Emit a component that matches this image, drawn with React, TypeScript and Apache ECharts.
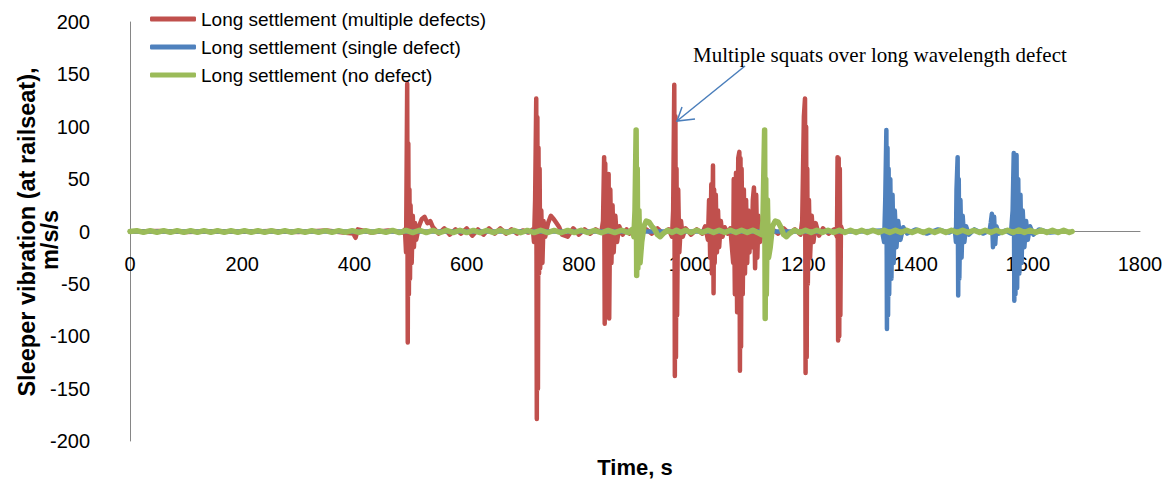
import React, { useEffect, useRef } from "react";
import * as echarts from "echarts";

const X_MIN = 0;
const X_MAX = 1800;
const X_STEP = 200;
const Y_MIN = -200;
const Y_MAX = 200;
const Y_STEP = 50;

const SERIES_NAMES = [
  "Long settlement (multiple defects)",
  "Long settlement (single defect)",
  "Long settlement (no defect)",
];

// [time (s), vibration (m/s/s)]
const multipleDefects: [number, number][] = [
  [0, 0], [50, 0.5], [100, -0.5], [150, 0.3], [200, -0.3], [250, 0.5], [300, -0.5], [350, 1],
  [380, -1], [398, -2], [402, -6], [406, 2], [430, -1], [460, 1], [485, -1],
  [490, 2], [492, -20], [493, 60], [494, 141], [495, -106], [496, 84], [497, -60], [498, 40],
  [499, -45], [500, 25], [502, -30], [504, 15], [506, -15], [508, 8], [510, -8], [515, 5],
  [520, 12], [525, 14], [530, 8], [535, 10], [540, 4], [550, -2], [560, 3], [570, -3],
  [580, 2], [590, -2], [600, 3], [610, -4], [620, 2], [630, -3], [640, 3], [650, -2],
  [660, 3], [670, -2], [680, 2], [690, -2], [700, 1], [710, -1], [718, 2],
  [720, -10], [722, 30], [724, 127], [725, -179], [726, 109], [727, -150], [728, 80], [729, -40],
  [730, 60], [731, -35], [733, 20], [735, -30], [737, 10], [740, -5], [745, 8], [750, 15],
  [755, 12], [760, 8], [765, 4], [770, -3], [780, -5], [790, 3], [800, -3], [810, 2],
  [820, -2], [830, 2], [840, -1],
  [843, 10], [845, 71], [846, -88], [847, 65], [848, -80], [849, 40], [851, -60], [853, 55],
  [854, -83], [856, 40], [858, -30], [860, 25], [862, -20], [865, 15], [868, -10], [872, 5],
  [878, -3], [885, 2], [890, -2], [900, 3], [910, -3], [920, 2], [930, -2], [940, 3],
  [950, -2], [960, 2], [966, -5],
  [968, 20], [970, 140], [971, -138], [972, 110], [973, -120], [974, 60], [975, -80], [977, 40],
  [979, -20], [982, 10], [985, -5], [990, 3], [1000, -3], [1010, 2], [1020, -2], [1025, 5],
  [1030, -8],
  [1032, 30], [1034, -25], [1036, 45], [1037, -40], [1039, 63], [1040, -59], [1041, 40], [1042, -30],
  [1044, 35], [1046, -20], [1048, 20], [1050, -15], [1053, 10], [1056, -5], [1060, 4], [1065, -2],
  [1070, 3], [1075, -30],
  [1076, 50], [1078, -60], [1080, 56], [1082, -77], [1084, 70], [1086, 76], [1087, -133], [1088, 70],
  [1089, -110], [1090, 60], [1092, -60], [1094, 40], [1096, -40], [1098, 30], [1100, -30], [1102, 20],
  [1104, -20], [1106, 15], [1108, -15], [1110, 30], [1112, 42], [1114, -35], [1116, 35], [1118, -25],
  [1120, 15], [1123, -10], [1128, 5], [1135, -3], [1145, 2], [1155, -2], [1165, 3], [1175, -2],
  [1185, 2], [1195, -3],
  [1198, 10], [1201, 110], [1203, 127], [1204, -135], [1205, 100], [1206, -120], [1207, 60], [1208, -50],
  [1210, 30], [1212, -25], [1215, 15], [1218, -10], [1222, 8], [1228, -4], [1235, 3], [1245, -2],
  [1255, 2], [1260, -5],
  [1261, 71], [1262, -104], [1263, 70], [1264, -100], [1265, 60], [1266, -80], [1267, 5], [1270, 0],
];

const singleDefect: [number, number][] = [
  [0, 0], [200, 0], [400, 0], [600, 0], [800, 0], [1000, 0], [1200, 0], [1300, 0],
  [1340, 1], [1344, -10], [1346, 30], [1348, 97], [1349, -93], [1350, 80], [1351, -80], [1352, 60],
  [1353, -60], [1355, 50], [1357, -45], [1359, 35], [1361, -30], [1363, 20], [1366, -15], [1369, 10],
  [1373, -8], [1378, 4], [1385, -2], [1400, 2], [1420, -2], [1440, 2], [1460, -1], [1470, 2],
  [1472, -10], [1473, 40], [1475, 71], [1476, -61], [1477, 50], [1478, -45], [1480, 30], [1482, -25],
  [1484, 15], [1487, -10], [1490, 5], [1495, -3], [1505, 2], [1520, -2], [1532, 1],
  [1534, 8], [1536, 17], [1538, -15], [1540, 14], [1542, -12], [1544, 5], [1548, -2], [1560, 1],
  [1570, -2],
  [1573, 20], [1575, 75], [1576, -66], [1577, 70], [1578, -60], [1580, 73], [1581, -54], [1583, 50],
  [1585, -40], [1587, 35], [1589, -30], [1591, 20], [1594, -15], [1597, 10], [1600, -8], [1604, 5],
  [1610, -3], [1620, 2], [1640, -1], [1660, 0],
];

const noDefect: [number, number][] = [
  [0, 0], [12, 0.8], [24, -0.8], [36, 0.8], [48, -0.8], [60, 0.8], [72, -0.8], [84, 0.8],
  [96, -0.8], [108, 0.8], [120, -0.8], [132, 0.8], [144, -0.8], [156, 0.8], [168, -0.8], [180, 0.8],
  [192, -0.8], [204, 0.8], [216, -0.8], [228, 0.8], [240, -0.8], [252, 0.8], [264, -0.8], [276, 0.8],
  [288, -0.8], [300, 0.8], [312, -0.8], [324, 0.8], [336, -0.8], [348, 0.8], [360, -0.8], [372, 0.8],
  [384, -0.8], [396, 0.8], [408, -0.8], [420, 0.8], [432, -0.8], [444, 0.8], [456, -0.8], [468, 1],
  [480, -1], [492, 1], [504, -1], [516, 1.2], [528, -1], [540, 1], [552, -1.2], [564, 1],
  [576, -1], [588, 1.2], [600, -1], [612, 1], [624, -1.2], [636, 1], [648, -1], [660, 1.2],
  [672, -1], [684, 1], [696, -1.2], [708, 1], [720, -1], [732, 1.2], [744, -1], [756, 1],
  [768, -1.2], [780, 1], [792, -1], [804, 1.2], [816, -1], [828, 1], [840, -1.2], [852, 1],
  [864, -1], [876, 1.2], [888, -1],
  [895, 2], [898, -5], [900, 20], [902, 97], [903, -42], [904, 60], [905, -35], [907, 20],
  [909, -30], [912, -10], [916, 5], [920, 10], [925, 9], [930, 5], [935, 2], [940, -3],
  [945, -5], [950, -2], [958, 1.2], [966, -1], [974, 1.2], [982, -1], [990, 1.2], [1000, -1],
  [1010, 1.2], [1020, -1], [1030, 1.2], [1040, -1], [1050, 1.2], [1060, -1], [1070, 1.2], [1080, -1],
  [1090, 1.2], [1100, -1], [1110, 1.2], [1120, -1.5],
  [1126, -3], [1128, 10], [1131, 97], [1132, -83], [1133, 50], [1134, -60], [1136, 30], [1138, -25],
  [1141, -15], [1145, 5], [1150, 10], [1155, 9], [1160, 4], [1165, -3], [1170, -5], [1175, -2],
  [1184, 1.2], [1194, -1], [1204, 1.2], [1214, -1], [1224, 1.2], [1234, -1], [1244, 1.2], [1254, -1],
  [1264, 1.2], [1274, -1], [1284, 1.2], [1294, -1], [1304, 1.2], [1314, -1], [1324, 1.2], [1334, -1],
  [1344, 1.2], [1354, -1], [1364, 1.2], [1374, -1], [1384, 1.2], [1394, -1], [1404, 1.2], [1414, -1],
  [1424, 1.2], [1434, -1], [1444, 1.2], [1454, -1], [1464, 1.2], [1474, -1], [1484, 1.2], [1494, -1],
  [1504, 1.2], [1514, -1], [1524, 1.2], [1534, -1], [1544, 1.2], [1554, -1], [1564, 1.2], [1574, -1],
  [1584, 1.5], [1594, -1], [1604, 1.2], [1614, -1], [1624, 1.2], [1634, -1], [1644, 1.2], [1654, -1],
  [1664, 1.2], [1674, -1], [1679, 0],
];

const COLORS = ["#c0504d", "#4f81bd", "#9bbb59"];
const SANS = "'Liberation Sans', Arial, sans-serif";

const GRID_TOP = 22;
const GRID_BOTTOM = 42;
const CHART_H = 483;

export default function App() {
  const ref = useRef<HTMLDivElement>(null);

  useEffect(() => {
    if (!ref.current) return;
    document.body.style.margin = "0";
    const chart = echarts.init(ref.current, undefined, { renderer: "svg" });
    const datasets = [multipleDefects, singleDefect, noDefect];
    const plotH = CHART_H - GRID_TOP - GRID_BOTTOM;
    const zeroOffset = -plotH * (0 - Y_MIN) / (Y_MAX - Y_MIN);
    chart.setOption({
      animation: false,
      backgroundColor: "#ffffff",
      grid: { left: 130, right: 33, top: GRID_TOP, bottom: GRID_BOTTOM, outerBoundsMode: "none" },
      legend: {
        orient: "vertical",
        left: 145,
        top: 4,
        itemWidth: 46,
        itemHeight: 5,
        itemGap: 8,
        icon: "roundRect",
        data: SERIES_NAMES,
        textStyle: { fontFamily: SANS, fontSize: 19, color: "#000", lineHeight: 20 },
      },
      xAxis: {
        type: "value",
        min: X_MIN,
        max: X_MAX,
        interval: X_STEP,
        offset: zeroOffset,
        axisLine: { show: true, onZero: false, lineStyle: { color: "#868686", width: 1 } },
        axisTick: { show: false },
        splitLine: { show: false },
        axisLabel: {
          fontFamily: SANS,
          fontSize: 20,
          color: "#000",
          margin: 22,
          formatter: (v: number) => String(v),
        },
      },
      yAxis: {
        type: "value",
        min: Y_MIN,
        max: Y_MAX,
        interval: Y_STEP,
        axisLine: { show: true, lineStyle: { color: "#868686", width: 1 } },
        axisTick: { show: false },
        splitLine: { show: false },
        axisLabel: {
          fontFamily: SANS,
          fontSize: 20,
          color: "#000",
          margin: 40,
          formatter: (v: number) => String(v),
        },
      },
      series: SERIES_NAMES.map((name, i) => ({
        name,
        type: "line",
        data: datasets[i],
        showSymbol: false,
        symbol: "none",
        color: COLORS[i],
        lineStyle: { color: COLORS[i], width: i === 2 ? 5.5 : 4.5, cap: "round", join: "round" },
        z: 2 + i,
      })),
      graphic: [
        {
          type: "text",
          x: 27,
          y: 232,
          rotation: Math.PI / 2,
          style: {
            text: "Sleeper vibration (at railseat),",
            font: `bold 23.5px ${SANS}`,
            fill: "#000",
            textAlign: "center",
            textVerticalAlign: "middle",
          },
        },
        {
          type: "text",
          x: 50,
          y: 240,
          rotation: Math.PI / 2,
          style: {
            text: "m/s/s",
            font: `bold 23.5px ${SANS}`,
            fill: "#000",
            textAlign: "center",
            textVerticalAlign: "middle",
          },
        },
        {
          type: "text",
          x: 635,
          y: 467,
          style: {
            text: "Time, s",
            font: `bold 22px ${SANS}`,
            fill: "#000",
            textAlign: "center",
            textVerticalAlign: "middle",
          },
        },
        {
          type: "text",
          x: 693,
          y: 55,
          style: {
            text: "Multiple squats over long wavelength defect",
            font: "21px 'Liberation Serif', 'Times New Roman', serif",
            fill: "#000",
            textAlign: "left",
            textVerticalAlign: "middle",
          },
        },
        {
          type: "line",
          shape: { x1: 745, y1: 66, x2: 677, y2: 121 },
          style: { stroke: "#4a7ebb", lineWidth: 1.5 },
          z: 10,
        },
        {
          type: "polyline",
          shape: { points: [[695, 119], [677, 121], [682, 107]] },
          style: { stroke: "#4a7ebb", lineWidth: 1.5, fill: "none" },
          z: 10,
        },
      ],
    });
    return () => chart.dispose();
  }, []);

  return <div ref={ref} style={{ width: 1173, height: 483 }} />;
}
